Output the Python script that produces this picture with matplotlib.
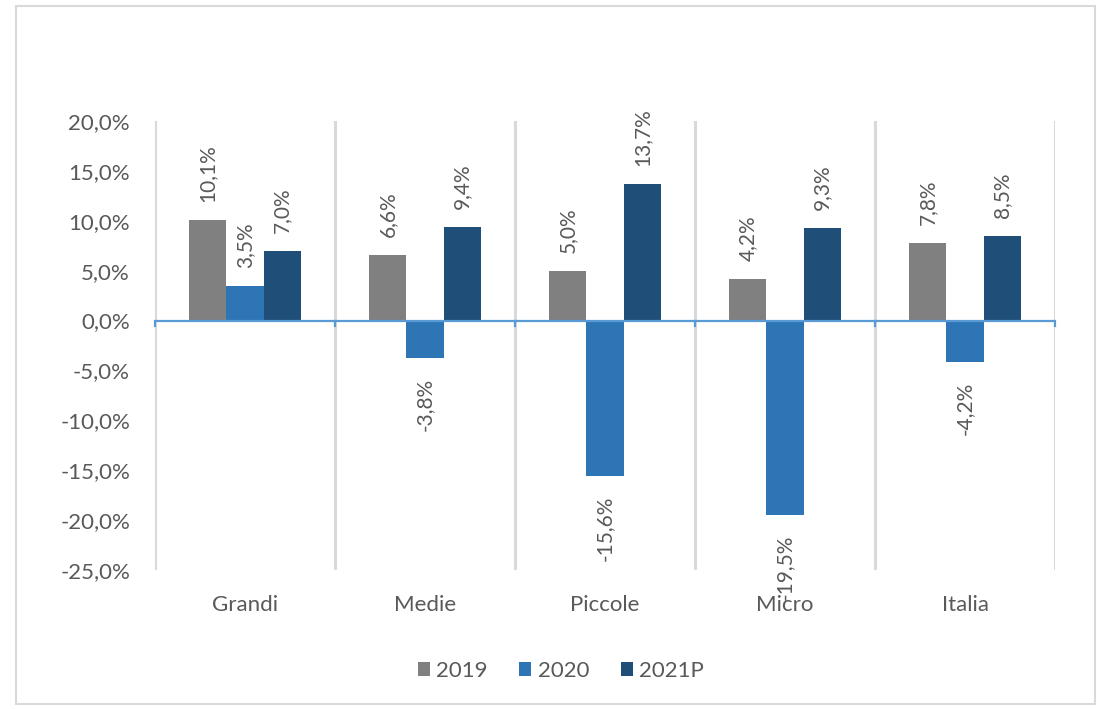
import matplotlib
matplotlib.use("Agg")
import matplotlib.pyplot as plt
from matplotlib.patches import Rectangle
import numpy as np

categories = ["Grandi", "Medie", "Piccole", "Micro", "Italia"]
series_names = ["2019", "2020", "2021P"]
v2019 = [10.1, 6.6, 5.0, 4.2, 7.8]
v2020 = [3.5, -3.8, -15.6, -19.5, -4.2]
v2021 = [7.0, 9.4, 13.7, 9.3, 8.5]
yticks = [20, 15, 10, 5, 0, -5, -10, -15, -20, -25]

colors = ["#808080", "#2E75B6", "#1F4E79"]
text_color = "#595959"
font = ["Lato", "DejaVu Sans"]

fig = plt.figure(figsize=(11.01, 7.09), dpi=100)
fig.patches.append(Rectangle((16/1101, 1-704/709), (1095-16)/1101, (704-6)/709,
                             transform=fig.transFigure, fill=False,
                             edgecolor="#D9D9D9", linewidth=1.5))
ax = fig.add_axes([155/1101, 1-570/709, 900/1101, 449/709])
ax.set_xlim(0, 5)
ax.set_ylim(-25, 20)
for s in ax.spines.values():
    s.set_visible(False)

x = np.arange(len(categories)) + 0.5
w = 0.207
for i, (vals, c, name) in enumerate(zip([v2019, v2020, v2021], colors, series_names)):
    xs = x + (i - 1) * w
    ax.bar(xs, vals, width=w, color=c, label=name, zorder=3)
    for xi, v in zip(xs, vals):
        lab = f"{v:.1f}%".replace(".", ",")
        ax.annotate(lab, (xi, v), xytext=(0, 13 if v >= 0 else -14),
                    textcoords="offset points", rotation=90,
                    ha="center", va="bottom" if v >= 0 else "top",
                    fontsize=15, color=text_color, family=font, zorder=5)

# vertical category separators
for b in range(6):
    ax.axvline(b, color="#D9D9D9", linewidth=2.2, zorder=1)

# zero line with small ticks
ax.axhline(0, color="#5B9BD5", linewidth=1.6, zorder=4)
for b in range(6):
    ax.plot([b, b], [0, -0.55], color="#5B9BD5", linewidth=1.6, zorder=4,
            clip_on=False)

ax.set_yticks(yticks)
ax.set_yticklabels([f"{t:.1f}%".replace(".", ",") for t in yticks],
                   fontsize=16, color=text_color, family=font)
ax.tick_params(axis="y", length=0, pad=18)
ax.set_xticks([])
for xi, c in zip(x, categories):
    ax.text(xi, -0.078, c, transform=ax.get_xaxis_transform(), ha="center",
            va="center", fontsize=16, color=text_color, family=font)

ax.legend(loc="center", bbox_to_anchor=(0.451, -0.225), ncol=3, frameon=False,
          prop={"family": font, "size": 16}, labelcolor=text_color,
          handlelength=0.55, handleheight=0.55, handletextpad=0.3,
          columnspacing=1.4)

fig.savefig("out.png", dpi=100)
